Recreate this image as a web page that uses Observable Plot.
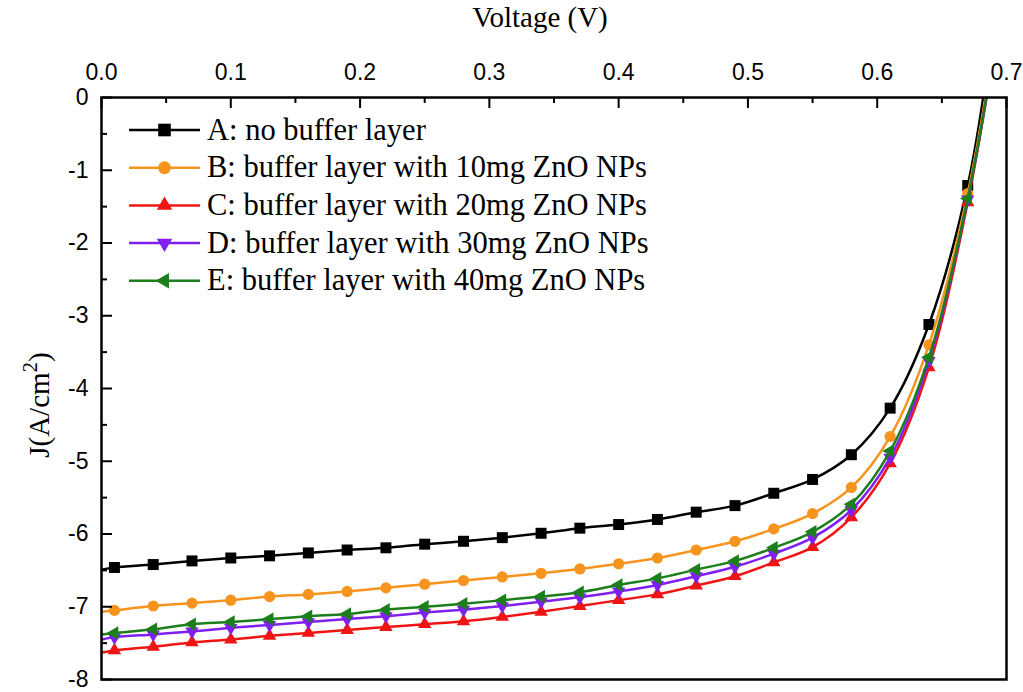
<!DOCTYPE html>
<html>
<head>
<meta charset="utf-8">
<script src="https://cdn.jsdelivr.net/npm/d3@7"></script>
<script src="https://cdn.jsdelivr.net/npm/@observablehq/plot@0.6"></script>
<style>
  body { margin: 0; background: #fff; }
  #chart { position: relative; width: 1023px; height: 692px; }
</style>
</head>
<body>
<div id="chart"></div>
<script>
// ---- data ----
const voltage = [0.00, 0.01, 0.04, 0.07, 0.10, 0.13, 0.16, 0.19, 0.22, 0.25, 0.28, 0.31, 0.34,
                 0.37, 0.40, 0.43, 0.46, 0.49, 0.52, 0.55, 0.58, 0.61, 0.64, 0.67, 0.69];
const seriesNames = [
  "A: no buffer layer",
  "B: buffer layer with 10mg ZnO NPs",
  "C: buffer layer with 20mg ZnO NPs",
  "D: buffer layer with 30mg ZnO NPs",
  "E: buffer layer with 40mg ZnO NPs"
];
const seriesColors = ["#000000", "#F7941D", "#F01414", "#8020F0", "#1C7F1C"];
const jA = [-6.49, -6.46, -6.42, -6.37, -6.33, -6.30, -6.26, -6.22, -6.19, -6.14, -6.10, -6.05, -5.99,
            -5.92, -5.87, -5.80, -5.70, -5.61, -5.44, -5.25, -4.91, -4.27, -3.12, -1.21, 1.00];
const jB = [-7.07, -7.05, -6.99, -6.95, -6.91, -6.86, -6.83, -6.79, -6.74, -6.69, -6.64, -6.59, -6.54,
            -6.48, -6.41, -6.33, -6.22, -6.10, -5.93, -5.72, -5.36, -4.66, -3.40, -1.32, 0.70];
const jC = [-7.63, -7.60, -7.55, -7.49, -7.45, -7.40, -7.36, -7.32, -7.28, -7.24, -7.20, -7.14, -7.07,
            -6.99, -6.91, -6.83, -6.71, -6.58, -6.39, -6.18, -5.77, -5.03, -3.71, -1.44, 0.60];
const jD = [-7.45, -7.42, -7.38, -7.34, -7.29, -7.25, -7.21, -7.17, -7.13, -7.08, -7.04, -6.99, -6.93,
            -6.87, -6.79, -6.70, -6.58, -6.45, -6.27, -6.05, -5.67, -4.95, -3.62, -1.40, 0.60];
const jE = [-7.38, -7.36, -7.31, -7.24, -7.21, -7.17, -7.13, -7.10, -7.04, -7.00, -6.96, -6.91, -6.86,
            -6.80, -6.70, -6.61, -6.49, -6.37, -6.19, -5.97, -5.59, -4.86, -3.57, -1.39, 0.60];
const seriesValues = [jA, jB, jC, jD, jE];
const xTicks = [0.0, 0.1, 0.2, 0.3, 0.4, 0.5, 0.6, 0.7];
const xMinorTicks = [0.05, 0.15, 0.25, 0.35, 0.45, 0.55, 0.65];
const yTicks = [0, -1, -2, -3, -4, -5, -6, -7, -8];
const yMinorTicks = [-0.5, -1.5, -2.5, -3.5, -4.5, -5.5, -6.5, -7.5];

// ---- custom triangle symbols ----
const sqrt3 = Math.sqrt(3);
function triangle(dir) {
  return {
    draw(ctx, size) {
      const y = -Math.sqrt(size / (sqrt3 * 3));
      let pts = [[0, 2 * y], [-sqrt3 * y, -y], [sqrt3 * y, -y]];
      if (dir === "down") pts = pts.map(([a, b]) => [a, -b]);
      if (dir === "left") pts = pts.map(([a, b]) => [b, a]);
      ctx.moveTo(pts[0][0], pts[0][1]);
      ctx.lineTo(pts[1][0], pts[1][1]);
      ctx.lineTo(pts[2][0], pts[2][1]);
      ctx.closePath();
    }
  };
}
const seriesSymbols = [d3.symbolSquare, d3.symbolCircle, triangle("up"), triangle("down"), triangle("left")];
const symbolR = [6.2, 5.6, 5.0, 5.0, 5.0];

// ---- layout ----
const W = 1023, H = 692;
const mL = 101, mR = 17, mT = 97, mB = 13;
const frameW = W - mL - mR, frameH = H - mT - mB;
const sans = "'Liberation Sans', Arial, sans-serif";
const serif = "'Liberation Serif', 'Times New Roman', serif";

const rows = [];
seriesNames.forEach((name, s) => {
  voltage.forEach((v, i) => rows.push({series: name, s, i, v, j: seriesValues[s][i]}));
});

const marks = [];
seriesNames.forEach((name, s) => {
  const data = rows.filter(d => d.s === s);
  marks.push(Plot.line(data, {x: "v", y: "j", stroke: seriesColors[s], strokeWidth: 2.5,
    curve: "catmull-rom", clip: true}));
  marks.push(Plot.dot(data.filter(d => d.i > 0 && d.i < voltage.length - 1),
    {x: "v", y: "j", symbol: seriesSymbols[s], fill: seriesColors[s], stroke: "none", r: symbolR[s]}));
});

const chart = Plot.plot({
  width: W, height: H,
  marginLeft: mL, marginRight: mR, marginTop: mT, marginBottom: mB,
  style: {fontFamily: sans, background: "#fff", color: "#000"},
  x: {domain: [0, 0.7]},
  y: {domain: [-8, 0]},
  marks: [
    ...marks,
    Plot.tickX(xTicks, {x: d => d, insetBottom: frameH - 11, stroke: "#000", strokeWidth: 2}),
    Plot.tickX(xMinorTicks, {x: d => d, insetBottom: frameH - 6, stroke: "#000", strokeWidth: 2}),
    Plot.tickY(yTicks, {y: d => d, insetRight: frameW - 11, stroke: "#000", strokeWidth: 2}),
    Plot.tickY(yMinorTicks, {y: d => d, insetRight: frameW - 6, stroke: "#000", strokeWidth: 2}),
    Plot.axisX(xTicks, {anchor: "top", tickSize: 0, tickPadding: 18, tickFormat: d3.format(".1f"),
      label: null, fontSize: 23, fill: "#000"}),
    Plot.axisY(yTicks, {anchor: "left", tickSize: 0, tickPadding: 13, tickFormat: d => String(d),
      label: null, fontSize: 23, fill: "#000"}),
    Plot.frame({stroke: "#000", strokeWidth: 2.5})
  ]
});

const svg = d3.select(chart);

// axis titles
svg.append("text")
  .attr("x", 540).attr("y", 27)
  .attr("text-anchor", "middle")
  .style("font-family", serif).style("font-size", "29px").attr("fill", "#000")
  .text("Voltage (V)");

const yl = svg.append("text")
  .attr("transform", "translate(49,405) rotate(-90)")
  .attr("text-anchor", "middle")
  .style("font-family", serif).style("font-size", "29px").attr("fill", "#000");
yl.append("tspan").text("J(A/cm");
yl.append("tspan").attr("dy", -12).style("font-size", "21px").text("2");
yl.append("tspan").attr("dy", 12).text(")");

// legend
const lg = svg.append("g").attr("text-anchor", "start");
seriesNames.forEach((name, s) => {
  const y = 130 + s * 37.7;
  lg.append("line").attr("x1", 129).attr("x2", 200).attr("y1", y).attr("y2", y)
    .attr("stroke", seriesColors[s]).attr("stroke-width", 2.5);
  lg.append("path")
    .attr("transform", `translate(164.5,${y})`)
    .attr("d", d3.symbol().type(seriesSymbols[s]).size(Math.PI * (symbolR[s] * 1.15) ** 2)())
    .attr("fill", seriesColors[s]);
  lg.append("text").attr("x", 207).attr("y", y + 9.5)
    .attr("text-anchor", "start")
    .style("font-family", serif).style("font-size", "30.5px").attr("fill", "#000")
    .text(name);
});

document.getElementById("chart").appendChild(chart);
</script>
</body>
</html>
